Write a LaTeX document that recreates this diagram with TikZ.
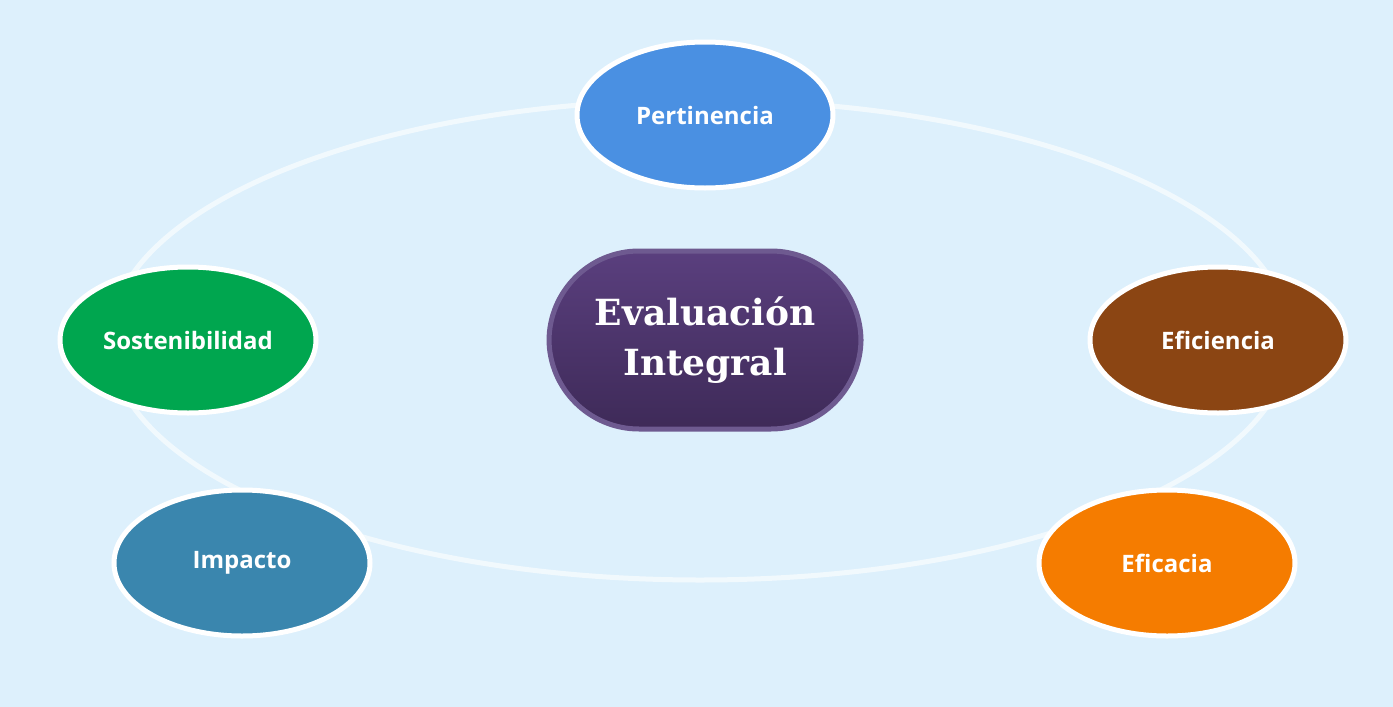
\documentclass[tikz,border=0pt]{standalone}
\usepackage{fontspec}
\setmainfont{Open Sans}
\newfontfamily\titlefont{DejaVu Serif}
\definecolor{bgblue}{HTML}{DDF0FC}
\definecolor{pertcol}{HTML}{4A90E2}
\definecolor{sostcol}{HTML}{00A64F}
\definecolor{eficol}{HTML}{8B4513}
\definecolor{impcol}{HTML}{3A86AE}
\definecolor{efcol}{HTML}{F57C00}
\definecolor{purpA}{HTML}{5A3F7E}
\definecolor{purpB}{HTML}{3E2A58}
\definecolor{purpline}{HTML}{6E5A90}
\tikzset{
    crit/.style={ellipse, draw=white, line width=5pt, minimum width=256pt, minimum height=146pt,
        text=white, font=\fontsize{24}{28}\selectfont\bfseries},
}
\usetikzlibrary{shapes.geometric}
\begin{document}
\begin{tikzpicture}[x=1pt, y=-1pt]
    % background
    \fill[bgblue] (0,0) rectangle (1393,707);
    \useasboundingbox (0,0) rectangle (1393,707);
    % ring
    \draw[white, opacity=0.6, line width=5pt] (700,340) ellipse (590 and 240);
    % criteria
    \node[crit, fill=pertcol] (pert) at (705,115) {Pertinencia};
    \node[crit, fill=sostcol] (sost) at (188,340) {Sostenibilidad};
    \node[crit, fill=eficol] (efic) at (1218,340) {Eficiencia};
    \node[crit, fill=impcol] (imp) at (242,563) {Impacto};
    \node[crit, fill=efcol] (efca) at (1167,563) {Eficacia};
    % centre
    \node[draw=purpline, line width=5pt, rounded corners=90pt, minimum width=312pt, minimum height=178pt,
        top color=purpA, bottom color=purpB, text=white, align=center,
        font=\titlefont\fontsize{36}{50}\selectfont\bfseries] (centre) at (705,340) {Evaluación\\Integral};
\end{tikzpicture}
\end{document}
